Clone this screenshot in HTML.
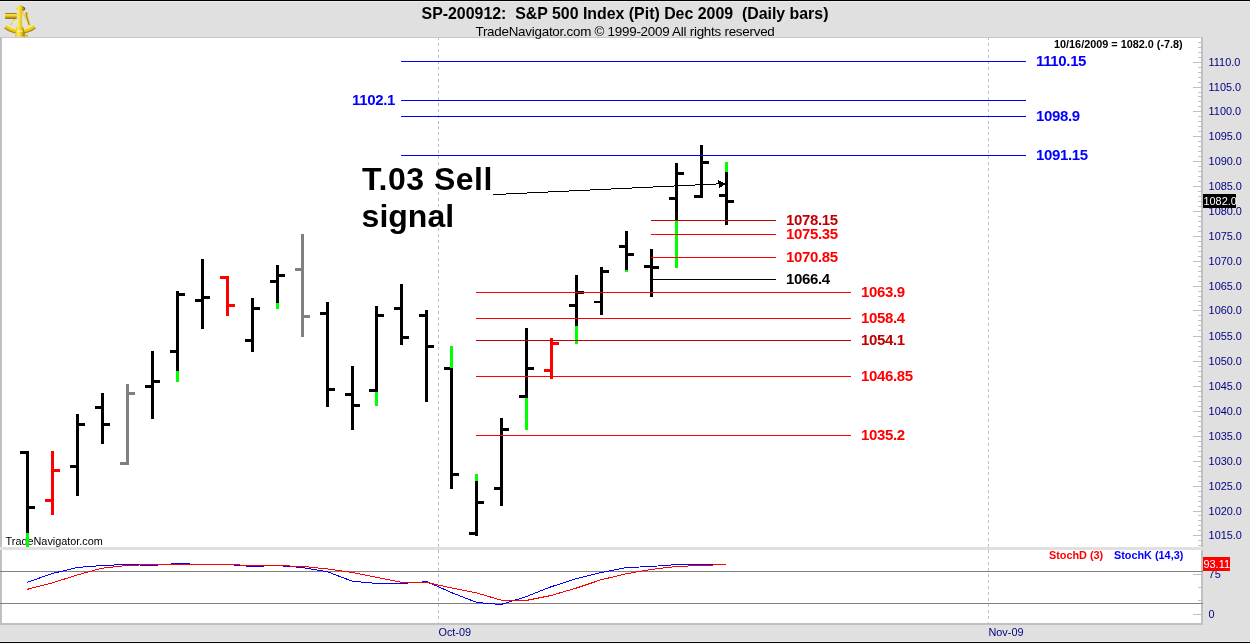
<!DOCTYPE html>
<html><head><meta charset="utf-8"><title>SP-200912</title>
<style>
html,body{margin:0;padding:0}
body{width:1250px;height:643px;overflow:hidden;background:#e0e0e0;font-family:"Liberation Sans",sans-serif;position:relative}
#frame{position:absolute;left:0;top:0;width:1250px;height:643px;overflow:hidden;background:#e0e0e0}
.abs{position:absolute;white-space:pre;line-height:1}
#topb{position:absolute;left:0;top:0;width:1250px;height:1px;background:#000;box-shadow:0 1px 0 #ececec}
#botb{position:absolute;left:0;top:642px;width:1250px;height:1px;background:#000;box-shadow:0 -1px 0 #ececec}
#chart{position:absolute;left:0;top:37px;background:#fff;border-left:2px solid #c0c0c0;border-right:2px solid #c0c0c0;border-top:1px solid #c8c8c8;border-bottom:2px solid #c0c0c0;box-sizing:content-box;width:1199px;height:585px}
#title{left:0;width:1250px;text-align:center;top:6px;font-weight:bold;font-size:15.9px;color:#000}
#sub{left:0;width:1250px;text-align:center;top:25px;font-size:13.4px;letter-spacing:-0.25px;color:#000}
svg{position:absolute;left:0;top:0}
.ax{position:absolute;left:1208.6px;font-size:10.9px;line-height:14px;color:#000080;white-space:pre}
.pl{position:absolute;font-size:15px;letter-spacing:-0.35px;font-weight:bold;line-height:16px;white-space:pre}
#info{left:1054px;top:39px;font-size:10.85px;font-weight:bold;color:#000}
#tn{left:5.6px;top:536px;font-size:10.85px;color:#000}
#big1,#big2{font-size:32px;font-weight:bold;color:#000}
.box{position:absolute;color:#fff;font-size:10.9px;text-indent:0.5px;line-height:14px;height:14px;white-space:pre}
.mon{position:absolute;font-size:10.85px;color:#000080;top:626px;line-height:12px}
.leg{position:absolute;top:549px;font-size:10.85px;font-weight:bold;line-height:12px;white-space:pre}
</style></head><body>
<div id="frame">
<div id="chart"></div>
<div class="abs" id="tn">TradeNavigator.com</div>
<svg width="1250" height="643" viewBox="0 0 1250 643" shape-rendering="crispEdges">
<rect x="0" y="547" width="1203" height="3" fill="#e0e0e0"/>
<line x1="438.5" y1="37" x2="438.5" y2="623" stroke="#c0c0c0" stroke-dasharray="3 2.965"/>
<line x1="988.5" y1="37" x2="988.5" y2="623" stroke="#c0c0c0" stroke-dasharray="3 2.965"/>
<rect x="26" y="451" width="3" height="96" fill="#000"/>
<rect x="20" y="451" width="6" height="3" fill="#000"/>
<rect x="29" y="506" width="6" height="3" fill="#000"/>
<rect x="26" y="533" width="3" height="14" fill="#00ff00"/>
<rect x="51" y="451" width="3" height="64" fill="#ff0000"/>
<rect x="45" y="499" width="6" height="3" fill="#ff0000"/>
<rect x="54" y="469" width="6" height="3" fill="#ff0000"/>
<rect x="76" y="414" width="3" height="82" fill="#000"/>
<rect x="70" y="465" width="6" height="3" fill="#000"/>
<rect x="79" y="423" width="6" height="3" fill="#000"/>
<rect x="101" y="393" width="3" height="51" fill="#000"/>
<rect x="95" y="406" width="6" height="3" fill="#000"/>
<rect x="104" y="423" width="6" height="3" fill="#000"/>
<rect x="126" y="384" width="3" height="81" fill="#808080"/>
<rect x="120" y="462" width="6" height="3" fill="#808080"/>
<rect x="129" y="392" width="6" height="3" fill="#808080"/>
<rect x="151" y="351" width="3" height="68" fill="#000"/>
<rect x="145" y="385" width="6" height="3" fill="#000"/>
<rect x="154" y="380" width="6" height="3" fill="#000"/>
<rect x="176" y="291" width="3" height="91" fill="#000"/>
<rect x="170" y="350" width="6" height="3" fill="#000"/>
<rect x="179" y="293" width="6" height="3" fill="#000"/>
<rect x="176" y="371" width="3" height="11" fill="#00ff00"/>
<rect x="201" y="259" width="3" height="70" fill="#000"/>
<rect x="195" y="299" width="6" height="3" fill="#000"/>
<rect x="204" y="296" width="6" height="3" fill="#000"/>
<rect x="226" y="276" width="3" height="40" fill="#ff0000"/>
<rect x="220" y="276" width="6" height="3" fill="#ff0000"/>
<rect x="229" y="304" width="6" height="3" fill="#ff0000"/>
<rect x="251" y="298" width="3" height="54" fill="#000"/>
<rect x="245" y="339" width="6" height="3" fill="#000"/>
<rect x="254" y="307" width="6" height="3" fill="#000"/>
<rect x="276" y="265" width="3" height="44" fill="#000"/>
<rect x="270" y="280" width="6" height="3" fill="#000"/>
<rect x="279" y="274" width="6" height="3" fill="#000"/>
<rect x="276" y="303" width="3" height="6" fill="#00ff00"/>
<rect x="301" y="234" width="3" height="103" fill="#808080"/>
<rect x="295" y="268" width="6" height="3" fill="#808080"/>
<rect x="304" y="315" width="6" height="3" fill="#808080"/>
<rect x="326" y="302" width="3" height="105" fill="#000"/>
<rect x="320" y="312" width="6" height="3" fill="#000"/>
<rect x="329" y="388" width="6" height="3" fill="#000"/>
<rect x="351" y="366" width="3" height="64" fill="#000"/>
<rect x="345" y="393" width="6" height="3" fill="#000"/>
<rect x="354" y="404" width="6" height="3" fill="#000"/>
<rect x="375" y="306" width="3" height="100" fill="#000"/>
<rect x="369" y="389" width="6" height="3" fill="#000"/>
<rect x="378" y="314" width="6" height="3" fill="#000"/>
<rect x="375" y="392" width="3" height="14" fill="#00ff00"/>
<rect x="400" y="284" width="3" height="61" fill="#000"/>
<rect x="394" y="307" width="6" height="3" fill="#000"/>
<rect x="403" y="336" width="6" height="3" fill="#000"/>
<rect x="425" y="310" width="3" height="92" fill="#000"/>
<rect x="419" y="314" width="6" height="3" fill="#000"/>
<rect x="428" y="345" width="6" height="3" fill="#000"/>
<rect x="450" y="346" width="3" height="143" fill="#000"/>
<rect x="444" y="367" width="6" height="3" fill="#000"/>
<rect x="453" y="473" width="6" height="3" fill="#000"/>
<rect x="450" y="346" width="3" height="22" fill="#00ff00"/>
<rect x="475" y="474" width="3" height="62" fill="#000"/>
<rect x="469" y="532" width="6" height="3" fill="#000"/>
<rect x="478" y="501" width="6" height="3" fill="#000"/>
<rect x="475" y="474" width="3" height="7" fill="#00ff00"/>
<rect x="500" y="418" width="3" height="88" fill="#000"/>
<rect x="494" y="487" width="6" height="3" fill="#000"/>
<rect x="503" y="428" width="6" height="3" fill="#000"/>
<rect x="525" y="328" width="3" height="102" fill="#000"/>
<rect x="519" y="395" width="6" height="3" fill="#000"/>
<rect x="528" y="367" width="6" height="3" fill="#000"/>
<rect x="525" y="398" width="3" height="32" fill="#00ff00"/>
<rect x="550" y="338" width="3" height="41" fill="#ff0000"/>
<rect x="544" y="369" width="6" height="3" fill="#ff0000"/>
<rect x="553" y="342" width="6" height="3" fill="#ff0000"/>
<rect x="575" y="275" width="3" height="69" fill="#000"/>
<rect x="569" y="304" width="6" height="3" fill="#000"/>
<rect x="578" y="291" width="6" height="3" fill="#000"/>
<rect x="575" y="326" width="3" height="18" fill="#00ff00"/>
<rect x="600" y="267" width="3" height="48" fill="#000"/>
<rect x="594" y="301" width="6" height="2" fill="#000"/>
<rect x="603" y="270" width="6" height="3" fill="#000"/>
<rect x="625" y="231" width="3" height="41" fill="#000"/>
<rect x="619" y="245" width="6" height="3" fill="#000"/>
<rect x="628" y="253" width="6" height="3" fill="#000"/>
<rect x="625" y="270" width="3" height="2" fill="#00ff00"/>
<rect x="650" y="249" width="3" height="48" fill="#000"/>
<rect x="644" y="265" width="6" height="3" fill="#000"/>
<rect x="653" y="266" width="6" height="3" fill="#000"/>
<rect x="675" y="163" width="3" height="105" fill="#000"/>
<rect x="669" y="197" width="6" height="3" fill="#000"/>
<rect x="678" y="172" width="6" height="3" fill="#000"/>
<rect x="675" y="220" width="3" height="48" fill="#00ff00"/>
<rect x="700" y="145" width="3" height="53" fill="#000"/>
<rect x="694" y="195" width="6" height="3" fill="#000"/>
<rect x="703" y="161" width="6" height="3" fill="#000"/>
<rect x="725" y="162" width="3" height="63" fill="#000"/>
<rect x="719" y="194" width="6" height="3" fill="#000"/>
<rect x="728" y="200" width="6" height="3" fill="#000"/>
<rect x="725" y="162" width="3" height="10" fill="#00ff00"/>
<rect x="401" y="61" width="625" height="1" fill="#0000ff"/>
<rect x="401" y="100" width="625" height="1" fill="#0000ff"/>
<rect x="401" y="116" width="625" height="1" fill="#0000ff"/>
<rect x="401" y="155" width="625" height="1" fill="#0000ff"/>
<rect x="651" y="220" width="125" height="1" fill="#c00000"/>
<rect x="651" y="234" width="125" height="1" fill="#ff0000"/>
<rect x="651" y="257" width="125" height="1" fill="#ff0000"/>
<rect x="653" y="279" width="123" height="1" fill="#000"/>
<rect x="476" y="292" width="375" height="1" fill="#ff0000"/>
<rect x="476" y="318" width="375" height="1" fill="#ff0000"/>
<rect x="476" y="340" width="375" height="1" fill="#c00000"/>
<rect x="476" y="376" width="375" height="1" fill="#ff0000"/>
<rect x="476" y="435" width="375" height="1" fill="#ff0000"/>
<rect x="0" y="571" width="1203" height="1" fill="#808080"/>
<rect x="0" y="603" width="1203" height="1" fill="#808080"/>
<rect x="1198" y="42" width="3" height="1" fill="#c0c0c0"/>
<rect x="1198" y="47" width="3" height="1" fill="#c0c0c0"/>
<rect x="1198" y="52" width="3" height="1" fill="#c0c0c0"/>
<rect x="1198" y="57" width="3" height="1" fill="#c0c0c0"/>
<rect x="1193" y="62" width="8" height="1" fill="#c0c0c0"/>
<rect x="1198" y="67" width="3" height="1" fill="#c0c0c0"/>
<rect x="1198" y="72" width="3" height="1" fill="#c0c0c0"/>
<rect x="1198" y="77" width="3" height="1" fill="#c0c0c0"/>
<rect x="1198" y="82" width="3" height="1" fill="#c0c0c0"/>
<rect x="1193" y="87" width="8" height="1" fill="#c0c0c0"/>
<rect x="1198" y="92" width="3" height="1" fill="#c0c0c0"/>
<rect x="1198" y="96" width="3" height="1" fill="#c0c0c0"/>
<rect x="1198" y="101" width="3" height="1" fill="#c0c0c0"/>
<rect x="1198" y="106" width="3" height="1" fill="#c0c0c0"/>
<rect x="1193" y="111" width="8" height="1" fill="#c0c0c0"/>
<rect x="1198" y="116" width="3" height="1" fill="#c0c0c0"/>
<rect x="1198" y="121" width="3" height="1" fill="#c0c0c0"/>
<rect x="1198" y="126" width="3" height="1" fill="#c0c0c0"/>
<rect x="1198" y="131" width="3" height="1" fill="#c0c0c0"/>
<rect x="1193" y="136" width="8" height="1" fill="#c0c0c0"/>
<rect x="1198" y="141" width="3" height="1" fill="#c0c0c0"/>
<rect x="1198" y="146" width="3" height="1" fill="#c0c0c0"/>
<rect x="1198" y="151" width="3" height="1" fill="#c0c0c0"/>
<rect x="1198" y="156" width="3" height="1" fill="#c0c0c0"/>
<rect x="1193" y="161" width="8" height="1" fill="#c0c0c0"/>
<rect x="1198" y="166" width="3" height="1" fill="#c0c0c0"/>
<rect x="1198" y="171" width="3" height="1" fill="#c0c0c0"/>
<rect x="1198" y="176" width="3" height="1" fill="#c0c0c0"/>
<rect x="1198" y="181" width="3" height="1" fill="#c0c0c0"/>
<rect x="1193" y="186" width="8" height="1" fill="#c0c0c0"/>
<rect x="1198" y="191" width="3" height="1" fill="#c0c0c0"/>
<rect x="1198" y="196" width="3" height="1" fill="#c0c0c0"/>
<rect x="1198" y="201" width="3" height="1" fill="#c0c0c0"/>
<rect x="1198" y="206" width="3" height="1" fill="#c0c0c0"/>
<rect x="1193" y="211" width="8" height="1" fill="#c0c0c0"/>
<rect x="1198" y="216" width="3" height="1" fill="#c0c0c0"/>
<rect x="1198" y="221" width="3" height="1" fill="#c0c0c0"/>
<rect x="1198" y="226" width="3" height="1" fill="#c0c0c0"/>
<rect x="1198" y="231" width="3" height="1" fill="#c0c0c0"/>
<rect x="1193" y="236" width="8" height="1" fill="#c0c0c0"/>
<rect x="1198" y="241" width="3" height="1" fill="#c0c0c0"/>
<rect x="1198" y="246" width="3" height="1" fill="#c0c0c0"/>
<rect x="1198" y="251" width="3" height="1" fill="#c0c0c0"/>
<rect x="1198" y="256" width="3" height="1" fill="#c0c0c0"/>
<rect x="1193" y="261" width="8" height="1" fill="#c0c0c0"/>
<rect x="1198" y="266" width="3" height="1" fill="#c0c0c0"/>
<rect x="1198" y="271" width="3" height="1" fill="#c0c0c0"/>
<rect x="1198" y="276" width="3" height="1" fill="#c0c0c0"/>
<rect x="1198" y="281" width="3" height="1" fill="#c0c0c0"/>
<rect x="1193" y="286" width="8" height="1" fill="#c0c0c0"/>
<rect x="1198" y="291" width="3" height="1" fill="#c0c0c0"/>
<rect x="1198" y="296" width="3" height="1" fill="#c0c0c0"/>
<rect x="1198" y="301" width="3" height="1" fill="#c0c0c0"/>
<rect x="1198" y="305" width="3" height="1" fill="#c0c0c0"/>
<rect x="1193" y="310" width="8" height="1" fill="#c0c0c0"/>
<rect x="1198" y="315" width="3" height="1" fill="#c0c0c0"/>
<rect x="1198" y="320" width="3" height="1" fill="#c0c0c0"/>
<rect x="1198" y="325" width="3" height="1" fill="#c0c0c0"/>
<rect x="1198" y="330" width="3" height="1" fill="#c0c0c0"/>
<rect x="1193" y="336" width="8" height="1" fill="#c0c0c0"/>
<rect x="1198" y="341" width="3" height="1" fill="#c0c0c0"/>
<rect x="1198" y="346" width="3" height="1" fill="#c0c0c0"/>
<rect x="1198" y="351" width="3" height="1" fill="#c0c0c0"/>
<rect x="1198" y="356" width="3" height="1" fill="#c0c0c0"/>
<rect x="1193" y="361" width="8" height="1" fill="#c0c0c0"/>
<rect x="1198" y="366" width="3" height="1" fill="#c0c0c0"/>
<rect x="1198" y="371" width="3" height="1" fill="#c0c0c0"/>
<rect x="1198" y="376" width="3" height="1" fill="#c0c0c0"/>
<rect x="1198" y="381" width="3" height="1" fill="#c0c0c0"/>
<rect x="1193" y="386" width="8" height="1" fill="#c0c0c0"/>
<rect x="1198" y="391" width="3" height="1" fill="#c0c0c0"/>
<rect x="1198" y="396" width="3" height="1" fill="#c0c0c0"/>
<rect x="1198" y="401" width="3" height="1" fill="#c0c0c0"/>
<rect x="1198" y="406" width="3" height="1" fill="#c0c0c0"/>
<rect x="1193" y="411" width="8" height="1" fill="#c0c0c0"/>
<rect x="1198" y="416" width="3" height="1" fill="#c0c0c0"/>
<rect x="1198" y="421" width="3" height="1" fill="#c0c0c0"/>
<rect x="1198" y="426" width="3" height="1" fill="#c0c0c0"/>
<rect x="1198" y="431" width="3" height="1" fill="#c0c0c0"/>
<rect x="1193" y="436" width="8" height="1" fill="#c0c0c0"/>
<rect x="1198" y="441" width="3" height="1" fill="#c0c0c0"/>
<rect x="1198" y="446" width="3" height="1" fill="#c0c0c0"/>
<rect x="1198" y="451" width="3" height="1" fill="#c0c0c0"/>
<rect x="1198" y="456" width="3" height="1" fill="#c0c0c0"/>
<rect x="1193" y="461" width="8" height="1" fill="#c0c0c0"/>
<rect x="1198" y="466" width="3" height="1" fill="#c0c0c0"/>
<rect x="1198" y="471" width="3" height="1" fill="#c0c0c0"/>
<rect x="1198" y="476" width="3" height="1" fill="#c0c0c0"/>
<rect x="1198" y="481" width="3" height="1" fill="#c0c0c0"/>
<rect x="1193" y="486" width="8" height="1" fill="#c0c0c0"/>
<rect x="1198" y="491" width="3" height="1" fill="#c0c0c0"/>
<rect x="1198" y="496" width="3" height="1" fill="#c0c0c0"/>
<rect x="1198" y="501" width="3" height="1" fill="#c0c0c0"/>
<rect x="1198" y="506" width="3" height="1" fill="#c0c0c0"/>
<rect x="1193" y="511" width="8" height="1" fill="#c0c0c0"/>
<rect x="1198" y="515" width="3" height="1" fill="#c0c0c0"/>
<rect x="1198" y="520" width="3" height="1" fill="#c0c0c0"/>
<rect x="1198" y="525" width="3" height="1" fill="#c0c0c0"/>
<rect x="1198" y="530" width="3" height="1" fill="#c0c0c0"/>
<rect x="1193" y="535" width="8" height="1" fill="#c0c0c0"/>
<rect x="1198" y="540" width="3" height="1" fill="#c0c0c0"/>
<rect x="1198" y="545" width="3" height="1" fill="#c0c0c0"/>
<rect x="1193" y="574" width="8" height="1" fill="#c0c0c0"/>
<rect x="1198" y="587" width="3" height="1" fill="#c0c0c0"/>
<rect x="1198" y="600" width="3" height="1" fill="#c0c0c0"/>
<rect x="1193" y="614" width="8" height="1" fill="#c0c0c0"/>
<polyline points="27,582.4 52,573.6 77,567.5 102,565.5 127,564.5 152,565.5 177,563.5 202,564.5 227,564.4 252,566.5 277,565.5 302,567.5 327,571.6 352,581.1 377,583.5 402,583.4 427,581.7 452,592.8 477,602.5 501,604.5 526,596.7 551,586.8 576,578.8 601,572.6 626,567.6 651,566.5 676,564.6 701,564.3 726,564.2" fill="none" stroke="#0000ff" stroke-width="1"/>
<polyline points="27,589.4 52,583.0 77,575.0 102,568.2 127,565.5 152,564.5 177,564.4 202,564.4 227,564.6 252,565.4 277,565.7 302,566.3 327,568.9 352,572.4 377,577.4 402,582.4 427,582.6 452,588.0 477,593.0 501,600.1 526,600.5 551,595.5 576,588.2 601,579.8 626,573.8 651,569.5 676,566.5 701,565.5 726,564.5" fill="none" stroke="#ff0000" stroke-width="1"/>
<line x1="493" y1="194.62" x2="720" y2="183.81" stroke="#000" stroke-width="1"/>
<polygon points="725.6,184 718,179.8 718.6,184 718.6,188.6" fill="#000"/>
</svg>
<div id="topb"></div><div id="botb"></div>
<div class="abs" id="title">SP-200912:&nbsp; S&amp;P 500 Index (Pit) Dec 2009&nbsp; (Daily bars)</div>
<div class="abs" id="sub">TradeNavigator.com © 1999-2009 All rights reserved</div>
<div class="abs" id="info">10/16/2009 = 1082.0 (-7.8)</div>
<div class="abs" id="big1" style="left:362px;top:163px;letter-spacing:0.5px">T.03 Sell</div>
<div class="abs" id="big2" style="left:361.6px;top:200px">signal</div>
<div class="ax" style="top:55px">1110.0</div>
<div class="ax" style="top:80px">1105.0</div>
<div class="ax" style="top:104px">1100.0</div>
<div class="ax" style="top:129px">1095.0</div>
<div class="ax" style="top:154px">1090.0</div>
<div class="ax" style="top:179px">1085.0</div>
<div class="ax" style="top:204px">1080.0</div>
<div class="ax" style="top:229px">1075.0</div>
<div class="ax" style="top:254px">1070.0</div>
<div class="ax" style="top:279px">1065.0</div>
<div class="ax" style="top:303px">1060.0</div>
<div class="ax" style="top:329px">1055.0</div>
<div class="ax" style="top:354px">1050.0</div>
<div class="ax" style="top:379px">1045.0</div>
<div class="ax" style="top:404px">1040.0</div>
<div class="ax" style="top:429px">1035.0</div>
<div class="ax" style="top:454px">1030.0</div>
<div class="ax" style="top:479px">1025.0</div>
<div class="ax" style="top:504px">1020.0</div>
<div class="ax" style="top:528px">1015.0</div>
<div class="ax" style="top:567px">75</div>
<div class="ax" style="top:607px">0</div>
<div class="pl" style="left:1036px;top:53px;color:#0000ff">1110.15</div>
<div class="pl" style="left:352px;top:92px;color:#0000ff">1102.1</div>
<div class="pl" style="left:1036px;top:108px;color:#0000ff">1098.9</div>
<div class="pl" style="left:1036px;top:147px;color:#0000ff">1091.15</div>
<div class="pl" style="left:786px;top:212px;color:#c00000">1078.15</div>
<div class="pl" style="left:786px;top:226px;color:#ff0000">1075.35</div>
<div class="pl" style="left:786px;top:249px;color:#ff0000">1070.85</div>
<div class="pl" style="left:786px;top:271px;color:#000">1066.4</div>
<div class="pl" style="left:861px;top:284px;color:#ff0000">1063.9</div>
<div class="pl" style="left:861px;top:310px;color:#ff0000">1058.4</div>
<div class="pl" style="left:861px;top:332px;color:#c00000">1054.1</div>
<div class="pl" style="left:861px;top:368px;color:#ff0000">1046.85</div>
<div class="pl" style="left:861px;top:427px;color:#ff0000">1035.2</div>
<div class="box" style="left:1203px;top:194px;width:33px;background:#000">1082.0</div>
<div class="box" style="left:1203px;top:557px;width:27px;background:#ff0000">93.11</div>
<div class="leg" style="left:1049px;color:#ff0000">StochD (3)</div>
<div class="leg" style="left:1114px;color:#0000ff">StochK (14,3)</div>
<div class="mon" style="left:438.5px">Oct-09</div>
<div class="mon" style="left:988.5px">Nov-09</div>
<svg width="44" height="40" viewBox="0 0 44 40" style="left:0;top:0" id="logo">
<defs>
<linearGradient id="g1" x1="0" y1="0" x2="0" y2="1"><stop offset="0" stop-color="#5a4a20"/><stop offset="0.2" stop-color="#f8e352"/><stop offset="0.5" stop-color="#f0cf1c"/><stop offset="0.8" stop-color="#b8950a"/><stop offset="1" stop-color="#5e4a06"/></linearGradient>
<linearGradient id="g2" x1="0" y1="0" x2="1" y2="0"><stop offset="0" stop-color="#e6c51a"/><stop offset="0.35" stop-color="#fbe95a"/><stop offset="0.7" stop-color="#e0bc12"/><stop offset="1" stop-color="#7e6406"/></linearGradient>
<radialGradient id="g3" cx="20" cy="8" r="25.9" gradientUnits="userSpaceOnUse"><stop offset="0.8" stop-color="#fff39a"/><stop offset="0.86" stop-color="#f5d92a"/><stop offset="0.94" stop-color="#e0bc12"/><stop offset="1" stop-color="#6e5808"/></radialGradient>
</defs>
<path d="M17.6 13.8 L10.6 25.2 M22.2 11.5 L30.4 25.6" stroke="#ead04a" stroke-width="1.5" fill="none"/>
<path d="M11.5 22 L29 22" stroke="#f4eaa8" stroke-width="1.1" fill="none"/>
<path d="M4.1 28.3 A25.8 25.8 0 0 0 35.9 28.3 L32.9 24.5 A20.9 20.9 0 0 1 7.1 24.5 Z" fill="url(#g3)"/>
<rect x="5" y="13.1" width="11.8" height="5.6" rx="0.8" fill="url(#g1)"/>
<path d="M25 12.2 Q26.5 11.4 28 12.6 L27.6 15.4 L30.2 24.6 L28.2 25.2 L25.6 16.6 Z" fill="#e4c420"/>
<path d="M26.4 12.6 L26.6 16.2 L29 24.6" stroke="#8a7008" stroke-width="0.7" fill="none"/>
<path d="M17.9 10 L16 9.6 L16 7.8 L17.8 7.2 L18.2 5.6 Q20.2 4.2 22.2 5.6 L22.6 7.2 L24.5 7.8 L24.5 9.6 L21.9 10 L21.9 25.6 L23.7 28.6 L25 36.5 L15 36.7 L15.9 28.6 L17.7 25.6 Z" fill="url(#g2)"/>
<path d="M22.4 6.8 L24.6 7.8 L24.6 9.8 L22.2 10.4" stroke="#4a3a06" stroke-width="0.8" fill="none"/>
<path d="M17.2 31.2 L22.6 31.2" stroke="#fff6b0" stroke-width="1.6" fill="none" opacity="0.7"/>
<path d="M24.6 34.6 L27.8 34.2 L28.3 36.9 L25 36.5 Z" fill="#e3c21a"/>
</svg>
</div>
</body></html>
